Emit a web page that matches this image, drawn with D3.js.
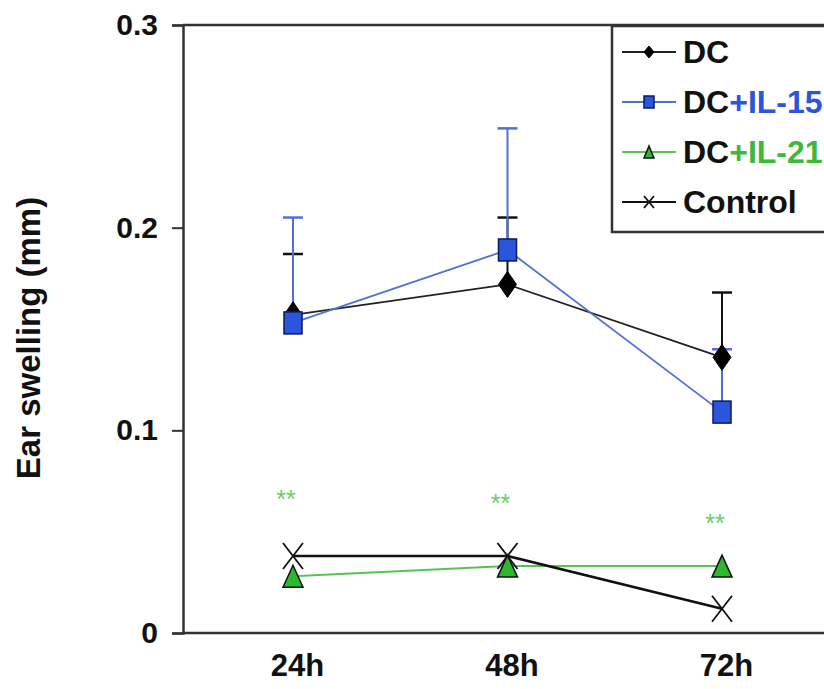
<!DOCTYPE html>
<html><head><meta charset="utf-8">
<script src="https://cdn.jsdelivr.net/npm/d3@7"></script>
<style>body{margin:0;background:#fff}svg{display:block}</style>
</head><body>
<svg id="c" width="824" height="689"></svg>
<script>
const categories = ["24h", "48h", "72h"];
const dcMean = [0.157, 0.172, 0.136];
const dcErr = [0.030, 0.033, 0.032];
const il15Mean = [0.153, 0.189, 0.109];
const il15Err = [0.052, 0.060, 0.031];
const il21Mean = [0.028, 0.033, 0.033];
const controlMean = [0.038, 0.038, 0.012];
const sigMarkY = [0.069, 0.067, 0.057];
const yTicks = [0, 0.1, 0.2, 0.3];
const yTickLabels = ["0", "0.1", "0.2", "0.3"];
const legendNames = [["DC", ""], ["DC", "+IL-15"], ["DC", "+IL-21"], ["Control", ""]];

const svg = d3.select("#c");
const FONT = "'Liberation Sans', Arial, sans-serif";
const BLUE = "#2a55dc", BLUE_LINE = "#5070d8", GREEN = "#2eb82e", GREEN_LINE = "#55c455";

const x = d3.scalePoint().domain(categories).range([293, 722]);
const y = d3.scaleLinear().domain([0, 0.3]).range([633, 25]);

// frame
const left = 183, right = 834;
svg.append("line").attr("x1", left).attr("x2", right).attr("y1", y(0.3)).attr("y2", y(0.3))
  .attr("stroke", "#333").attr("stroke-width", 2.5);
svg.append("line").attr("x1", left).attr("x2", right).attr("y1", y(0)).attr("y2", y(0))
  .attr("stroke", "#333").attr("stroke-width", 2.5);

// y axis
const yAxis = d3.axisLeft(y).tickValues(yTicks).tickFormat((d, i) => yTickLabels[i]).tickSize(11).tickPadding(14);
const gy = svg.append("g").attr("transform", `translate(${left},0)`).call(yAxis);
gy.select(".domain").attr("stroke", "#333").attr("stroke-width", 2.5);
gy.selectAll(".tick line").attr("stroke", "#333").attr("stroke-width", 2);
gy.selectAll(".tick text").attr("font-family", FONT).attr("font-weight", "bold").attr("font-size", 30).attr("fill", "#111");

// x axis labels
const xAxis = d3.axisBottom(x).tickSize(0).tickPadding(21);
const gx = svg.append("g").attr("transform", `translate(0,${y(0)})`).call(xAxis);
gx.select(".domain").remove();
gx.selectAll(".tick text").attr("font-family", FONT).attr("font-weight", "bold").attr("font-size", 31).attr("fill", "#111").attr("dx", 4);

// y label
svg.append("text").attr("transform", "translate(40,338) rotate(-90)").attr("text-anchor", "middle")
  .attr("font-family", FONT).attr("font-weight", "bold").attr("font-size", 33).attr("fill", "#111")
  .text("Ear swelling (mm)");

const line = d3.line().x((d, i) => x(categories[i])).y(d => y(d));

function errorBars(mean, err, color) {
  const g = svg.append("g");
  mean.forEach((m, i) => {
    const cx = x(categories[i]);
    g.append("line").attr("x1", cx).attr("x2", cx).attr("y1", y(m)).attr("y2", y(m + err[i])).attr("stroke", color).attr("stroke-width", 2);
    g.append("line").attr("x1", cx - 10).attr("x2", cx + 10).attr("y1", y(m + err[i])).attr("y2", y(m + err[i])).attr("stroke", color).attr("stroke-width", 2.5);
  });
}
errorBars(dcMean, dcErr, "#111");
errorBars(il15Mean, il15Err, BLUE_LINE);

function drawDiamond(g, cx, cy, w, h) {
  g.append("path").attr("d", `M${cx},${cy - h}L${cx + w},${cy}L${cx},${cy + h}L${cx - w},${cy}Z`).attr("fill", "#000").attr("stroke", "#000");
}
function drawSquare(g, cx, cy, w, h) {
  g.append("rect").attr("x", cx - w).attr("y", cy - h).attr("width", 2 * w).attr("height", 2 * h).attr("fill", BLUE).attr("stroke", "#0a1a60").attr("stroke-width", 1.5);
}
function drawTriangle(g, cx, cy, w, h) {
  g.append("path").attr("d", `M${cx},${cy - h}L${cx + w},${cy + h}L${cx - w},${cy + h}Z`).attr("fill", GREEN).attr("stroke", "#111").attr("stroke-width", 1.5);
}
function drawX(g, cx, cy, w, h) {
  g.append("path").attr("d", `M${cx - w},${cy - h}L${cx + w},${cy + h}M${cx + w},${cy - h}L${cx - w},${cy + h}`).attr("stroke", "#111").attr("stroke-width", 1.8).attr("fill", "none");
}

// series lines
svg.append("path").attr("d", line(il21Mean)).attr("fill", "none").attr("stroke", GREEN_LINE).attr("stroke-width", 2);
svg.append("path").attr("d", line(controlMean)).attr("fill", "none").attr("stroke", "#111").attr("stroke-width", 2.5);
svg.append("path").attr("d", line(dcMean)).attr("fill", "none").attr("stroke", "#222").attr("stroke-width", 1.8);
svg.append("path").attr("d", line(il15Mean)).attr("fill", "none").attr("stroke", BLUE_LINE).attr("stroke-width", 1.8);

const gm = svg.append("g");
il21Mean.forEach((v, i) => drawTriangle(gm, x(categories[i]), y(v), 10, 11));
controlMean.forEach((v, i) => drawX(gm, x(categories[i]), y(v), 10, 13));
dcMean.forEach((v, i) => drawDiamond(gm, x(categories[i]), y(v), 9, 13));
il15Mean.forEach((v, i) => drawSquare(gm, x(categories[i]), y(v), 9, 11));

// significance marks
svg.append("g").selectAll("text").data(sigMarkY).join("text")
  .attr("x", (d, i) => x(categories[i]) - 7).attr("y", d => y(d) + 15)
  .attr("text-anchor", "middle").attr("font-family", FONT).attr("font-size", 25).attr("fill", "#6ccc6c")
  .text("**");

// legend
const lg = svg.append("g");
lg.append("rect").attr("x", 612).attr("y", 26).attr("width", 230).attr("height", 206)
  .attr("fill", "#fff").attr("stroke", "#333").attr("stroke-width", 2.5);
const legY = [52, 102, 152, 202];
const legColors = ["#222", BLUE_LINE, GREEN_LINE, "#111"];
const legSuffixColor = ["#111", BLUE, "#3db83d", "#111"];
const legDraw = [drawDiamond, drawSquare, drawTriangle, drawX];
legendNames.forEach((nm, i) => {
  lg.append("line").attr("x1", 622).attr("x2", 676).attr("y1", legY[i]).attr("y2", legY[i]).attr("stroke", legColors[i]).attr("stroke-width", 2);
  legDraw[i](lg, 649, legY[i], 5, 6);
  const t = lg.append("text").attr("x", 683).attr("y", legY[i] + 11).attr("font-family", FONT).attr("font-weight", "bold").attr("font-size", 32).attr("fill", "#111");
  t.append("tspan").text(nm[0]);
  if (nm[1]) t.append("tspan").attr("fill", legSuffixColor[i]).text(nm[1]);
});
</script>
</body></html>
